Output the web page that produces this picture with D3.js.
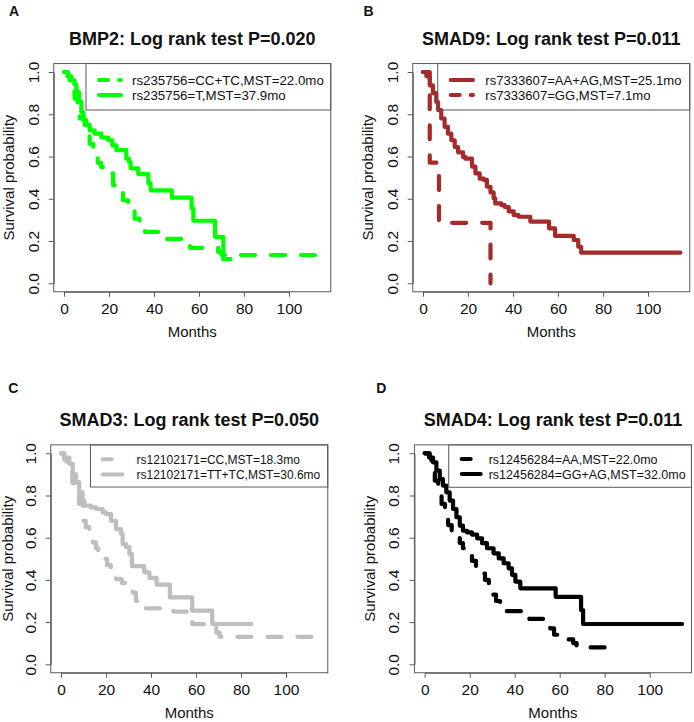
<!DOCTYPE html>
<html>
<head>
<meta charset="utf-8">
<script src="https://cdn.jsdelivr.net/npm/d3@7"></script>
<style>
  body { margin: 0; background: #fff; }
  svg { font-family: "Liberation Sans", Arial, sans-serif; }
</style>
</head>
<body>
<div id="chart"></div>
<script>
var svgWidth = 694;
var svgHeight = 722;

// Axis ticks
var monthTicks = [0, 20, 40, 60, 80, 100];
var survTicks = [0, 0.2, 0.4, 0.6, 0.8, 1.0];

// Panel text
var panelLetters = ["A", "B", "C", "D"];
var panelTitles = [
  "BMP2: Log rank test P=0.020",
  "SMAD9: Log rank test P=0.011",
  "SMAD3: Log rank test P=0.050",
  "SMAD4: Log rank test P=0.011"
];
var legendLabels = [
  ["rs235756=CC+TC,MST=22.0mo", "rs235756=T,MST=37.9mo"],
  ["rs7333607=AA+AG,MST=25.1mo", "rs7333607=GG,MST=7.1mo"],
  ["rs12102171=CC,MST=18.3mo", "rs12102171=TT+TC,MST=30.6mo"],
  ["rs12456284=AA,MST=22.0mo", "rs12456284=GG+AG,MST=32.0mo"]
];

// Kaplan-Meier steps (months, survival)
// A: BMP2
var bmp2CcTcTime = [0, 1.5, 2.5, 3.5, 4.7, 6, 7, 9.2, 10.5, 11.4, 13, 15, 16.5, 18.5, 21.8, 23.5, 26.2, 28.5, 31.4, 33.6, 36, 45, 56, 68.5, 70, 114.5];
var bmp2CcTcSurv = [1, 0.98, 0.96, 0.92, 0.874, 0.82, 0.78, 0.75, 0.70, 0.66, 0.62, 0.57, 0.55, 0.52, 0.464, 0.43, 0.393, 0.35, 0.306, 0.274, 0.243, 0.21, 0.168, 0.148, 0.134, 0.134];
var bmp2TTime = [0, 1.8, 3.3, 4.7, 5.5, 6.7, 7.7, 8.7, 9.9, 11.4, 13.6, 16.6, 19.6, 21.5, 23.3, 27.7, 28.9, 29.6, 33, 37.5, 38.5, 47.9, 56.7, 57.5, 67.1, 70.8, 74];
var bmp2TSurv = [1, 0.98, 0.96, 0.94, 0.905, 0.86, 0.81, 0.77, 0.75, 0.724, 0.708, 0.69, 0.677, 0.653, 0.63, 0.59, 0.574, 0.544, 0.517, 0.473, 0.44, 0.405, 0.355, 0.296, 0.22, 0.114, 0.114];

// B: SMAD9
var smad9AaAgTime = [0, 1.5, 3, 4.4, 5.9, 6.7, 8.1, 9.6, 11.1, 12.6, 14.1, 15.6, 17.8, 18.8, 21.8, 23.3, 25.2, 27, 28.4, 30, 31.4, 32.1, 34.8, 36.3, 38.1, 40.3, 42.5, 47.7, 56, 58.7, 67, 69, 70.3, 114.4];
var smad9AaAgSurv = [1, 0.98, 0.937, 0.9, 0.858, 0.82, 0.78, 0.74, 0.708, 0.677, 0.645, 0.62, 0.598, 0.59, 0.552, 0.52, 0.495, 0.489, 0.457, 0.43, 0.402, 0.378, 0.37, 0.361, 0.34, 0.323, 0.315, 0.292, 0.26, 0.224, 0.205, 0.173, 0.145, 0.145];
var smad9GgTime = [0, 3, 7.1, 30];
var smad9GgSurv = [1, 0.571, 0.286, 0];

// C: SMAD3
var smad3CcTime = [0, 1.5, 2.5, 3.7, 5, 6.5, 8, 9.6, 11, 12.6, 14.1, 15.5, 16.5, 18.5, 20.5, 22.2, 24.4, 27, 29, 31.9, 33.3, 36, 50, 57.3, 58.3, 69, 70.5, 115];
var smad3CcSurv = [1, 0.97, 0.95, 0.91, 0.86, 0.81, 0.76, 0.68, 0.65, 0.618, 0.578, 0.55, 0.523, 0.5, 0.47, 0.444, 0.404, 0.385, 0.373, 0.34, 0.30, 0.265, 0.25, 0.22, 0.19, 0.15, 0.13, 0.13];
var smad3TtTcTime = [0, 1.5, 3.7, 5.2, 6.7, 8.1, 9.6, 10.4, 13.3, 15.6, 18.5, 20, 22.2, 24.4, 26.7, 27.4, 28.9, 30.4, 31.5, 37, 39.3, 42.5, 48.4, 58.3, 67.2, 84.6];
var smad3TtTcSurv = [1, 0.98, 0.95, 0.90, 0.863, 0.815, 0.776, 0.752, 0.744, 0.736, 0.72, 0.712, 0.68, 0.641, 0.618, 0.57, 0.555, 0.523, 0.465, 0.436, 0.41, 0.378, 0.317, 0.254, 0.191, 0.191];

// D: SMAD4
var smad4AaTime = [0, 2, 3, 4.5, 6, 7.5, 9, 10.4, 12, 14, 15.6, 17, 19, 21, 22.8, 24.5, 26.8, 28.5, 30, 31.7, 33.5, 46.5, 55.8, 57.5, 59, 66, 67.5, 83];
var smad4AaSurv = [1, 0.98, 0.94, 0.87, 0.82, 0.76, 0.70, 0.66, 0.63, 0.60, 0.575, 0.55, 0.52, 0.49, 0.46, 0.43, 0.40, 0.36, 0.33, 0.30, 0.252, 0.215, 0.17, 0.14, 0.118, 0.10, 0.08, 0.08];
var smad4GgAgTime = [0, 2.2, 3.7, 5.2, 6.7, 8.1, 9.6, 11.1, 12.6, 14.1, 15.6, 17, 18.8, 21, 23.3, 25.5, 27.7, 30.6, 32.9, 35.1, 37.3, 38.8, 40.3, 42.5, 58.2, 69.5, 70.4, 114.4];
var smad4GgAgSurv = [1, 0.98, 0.957, 0.918, 0.878, 0.847, 0.815, 0.776, 0.736, 0.697, 0.657, 0.633, 0.625, 0.615, 0.597, 0.574, 0.55, 0.526, 0.502, 0.479, 0.455, 0.424, 0.392, 0.36, 0.32, 0.257, 0.191, 0.191];

var panelColors = ["#00ff00", "#a52a2a", "#bebebe", "#000000"];

// layout of the four panels (pixel positions of month 0 and survival 1 / 0)
var panels = [
  { x0: 64, y1: 72, y0: 283.3, letter: [9, 16], legLeft: 86, legBottom: 110, rows: [80, 95], sx: [97, 123], tx: 132, fs: 13.3,
    curves: [[bmp2CcTcTime, bmp2CcTcSurv, true], [bmp2TTime, bmp2TSurv, false]] },
  { x0: 423, y1: 72, y0: 283.3, letter: [363.5, 16], legLeft: 437.7, legBottom: 110, rows: [80, 95], sx: [448.7, 475], tx: 485.3, fs: 13.1,
    curves: [[smad9AaAgTime, smad9AaAgSurv, false], [smad9GgTime, smad9GgSurv, true]] },
  { x0: 61, y1: 453.3, y0: 664.3, letter: [8.3, 393.3], legLeft: 90.5, legBottom: 487, rows: [459.3, 474.5], sx: [100.7, 124.3], tx: 136.5, fs: 12,
    curves: [[smad3CcTime, smad3CcSurv, true], [smad3TtTcTime, smad3TtTcSurv, false]] },
  { x0: 424.7, y1: 453.3, y0: 664.3, letter: [376.3, 393.3], legLeft: 448.7, legBottom: 487.3, rows: [459, 474], sx: [459.7, 482.7], tx: 488.7, fs: 12.5,
    curves: [[smad4AaTime, smad4AaSurv, true], [smad4GgAgTime, smad4GgAgSurv, false]] }
];

var boxColor = "#5a5a5a";
var textColor = "#111";

var svg = d3.select("#chart")
  .append("svg")
  .attr("width", svgWidth)
  .attr("height", svgHeight)
  .style("background", "#fff");

panels.forEach(function(p, i) {
  var xScale = d3.scaleLinear().domain([0, 100]).range([p.x0, p.x0 + 225]);
  var yScale = d3.scaleLinear().domain([0, 1]).range([p.y0, p.y1]);

  var left = xScale(-4.56), right = xScale(118.56);
  var top = yScale(1.04), bottom = yScale(-0.04);
  var color = panelColors[i];

  // curves
  var line = d3.line()
    .x(d => xScale(d[0]))
    .y(d => yScale(d[1]))
    .curve(d3.curveStepAfter);

  p.curves.forEach(function(c) {
    svg.append("path")
      .datum(d3.zip(c[0], c[1]))
      .attr("d", line)
      .attr("fill", "none")
      .attr("stroke", color)
      .attr("stroke-width", 4.2)
      .attr("stroke-linejoin", "round")
      .attr("stroke-linecap", "round")
      .attr("stroke-dasharray", c[2] ? "14,16" : null);
  });

  // box
  svg.append("rect")
    .attr("x", left).attr("y", top)
    .attr("width", right - left).attr("height", bottom - top)
    .attr("fill", "none")
    .attr("stroke", boxColor)
    .attr("stroke-width", 1);

  // x axis
  var xAxis = svg.append("g")
    .attr("transform", `translate(0, ${bottom})`)
    .call(d3.axisBottom(xScale).tickValues(monthTicks).tickSize(5).tickSizeOuter(0).tickPadding(6));
  xAxis.select(".domain").attr("stroke", boxColor);
  xAxis.selectAll(".tick line").attr("stroke", boxColor);
  xAxis.selectAll("text")
    .attr("font-size", "15.5px")
    .attr("font-family", "Liberation Sans, Arial, sans-serif")
    .attr("fill", textColor);

  // y axis, labels parallel to axis as in R
  var yAxis = svg.append("g")
    .attr("transform", `translate(${left}, 0)`)
    .call(d3.axisLeft(yScale).tickValues(survTicks).tickFormat(d3.format(".1f")).tickSize(5).tickSizeOuter(0));
  yAxis.select(".domain").attr("stroke", boxColor);
  yAxis.selectAll(".tick line").attr("stroke", boxColor);
  yAxis.selectAll("text")
    .attr("transform", "rotate(-90)")
    .attr("x", 0)
    .attr("y", -15)
    .attr("dy", 0)
    .attr("text-anchor", "middle")
    .attr("font-size", "15.5px")
    .attr("font-family", "Liberation Sans, Arial, sans-serif")
    .attr("fill", textColor);

  // axis titles
  svg.append("text")
    .attr("transform", `translate(${Math.max(p.x0 - 50, 13)}, ${(yScale(0) + yScale(1)) / 2}) rotate(-90)`)
    .attr("text-anchor", "middle")
    .attr("font-size", "15px")
    .attr("fill", textColor)
    .text("Survival probability");

  svg.append("text")
    .attr("x", (left + right) / 2)
    .attr("y", p.y0 + 54)
    .attr("text-anchor", "middle")
    .attr("font-size", "15px")
    .attr("fill", textColor)
    .text("Months");

  // title and panel letter
  svg.append("text")
    .attr("x", (left + right) / 2)
    .attr("y", p.y1 - 27.3)
    .attr("text-anchor", "middle")
    .attr("font-size", "18px")
    .attr("font-weight", "bold")
    .attr("fill", textColor)
    .text(panelTitles[i]);

  svg.append("text")
    .attr("x", p.letter[0])
    .attr("y", p.letter[1])
    .attr("font-size", "14px")
    .attr("font-weight", "bold")
    .attr("fill", textColor)
    .text(panelLetters[i]);

  // legend
  svg.append("rect")
    .attr("x", p.legLeft).attr("y", top)
    .attr("width", right - p.legLeft).attr("height", p.legBottom - top)
    .attr("fill", "none")
    .attr("stroke", boxColor)
    .attr("stroke-width", 1);

  legendLabels[i].forEach(function(label, k) {
    var dashed = p.curves[k][2];
    svg.append("line")
      .attr("x1", p.sx[0] + 2).attr("x2", p.sx[1] - 2)
      .attr("y1", p.rows[k]).attr("y2", p.rows[k])
      .attr("stroke", color)
      .attr("stroke-width", 4)
      .attr("stroke-linecap", "round")
      .attr("stroke-dasharray", dashed ? "9,11" : null);
    svg.append("text")
      .attr("x", p.tx)
      .attr("y", p.rows[k])
      .attr("dy", "0.36em")
      .attr("font-size", p.fs + "px")
      .attr("fill", textColor)
      .text(label);
  });
});
</script>
</body>
</html>
